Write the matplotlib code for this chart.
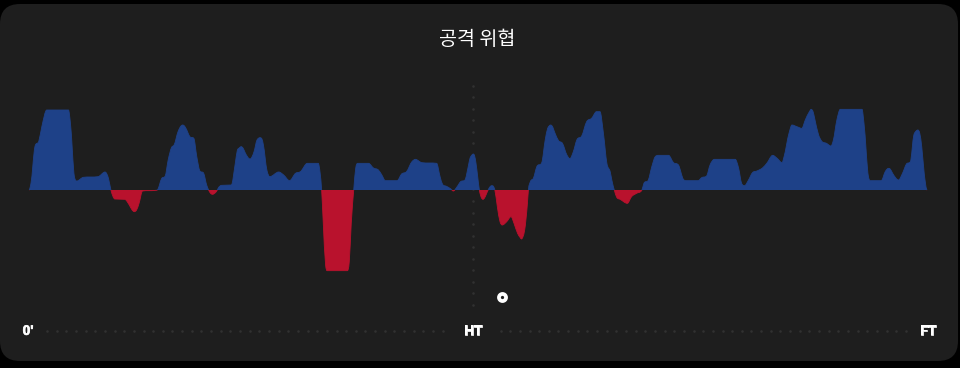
import numpy as np
import matplotlib
matplotlib.use("Agg")
import matplotlib.pyplot as plt
import matplotlib.patheffects as pe
from matplotlib.patches import FancyBboxPatch, PathPatch, Rectangle
from matplotlib.path import Path
from matplotlib.transforms import Affine2D

plt.rcParams['font.family'] = ['Noto Sans CJK KR', 'DejaVu Sans']

TITLE = "공격 위협"
PERIOD_LABELS = ["0'", "HT", "FT"]
goal_minutes = [47.9]

minutes = [0,.2,.6,1,1.3,1.8,4,4.2,4.6,4.85,5.5,7,7.7,8.05,8.3,8.7,9.7,10.16,10.45,10.67,10.9,11.15,11.5,12.8,13,13.45,13.8,14.1,14.45,14.7,15.1,15.4,15.57,15.75,15.9,16.3,16.7,17,17.3,17.7,18,18.2,18.4,18.6,18.8,19,19.2,19.5,20.5,20.9,21.1,21.3,21.5,21.7,21.9,22.4,22.8,23.1,23.2,23.4,23.6,23.75,24.1,24.4,25.3,25.8,26.4,27,27.5,28.2,29.3,29.5,29.65,29.8,30.05,30.2,32.25,32.45,32.65,32.9,33.1,33.3,34.4,34.9,35.4,35.75,36.1,37.3,37.75,38.25,38.8,39.15,39.8,41.3,41.65,41.9,42.3,42.7,43,43.33,43.73,44.17,44.5,44.68,44.85,45.02,45.15,45.29,45.46,45.63,45.85,46,46.15,46.3,46.55,46.75,46.9,47.05,47.2,47.45,47.72,47.95,48.4,48.84,49.14,49.5,49.75,49.9,50.05,50.22,50.5,50.6,50.8,51.1,51.45,51.95,52.3,52.55,52.7,52.85,53,53.3,53.65,54.05,54.5,54.8,55.15,55.5,56,56.5,57,57.5,57.85,58.2,58.55,58.9,59.05,59.3,59.55,59.9,60.62,61.05,61.55,62.1,62.3,62.75,63.1,63.45,63.8,64.8,65.3,65.8,66.3,66.55,67.8,68.15,68.65,69,69.45,71.55,71.9,72.2,72.5,72.9,73.3,73.75,74.35,74.75,75.35,75.8,76.3,76.5,77,77.3,77.8,78.3,78.65,79.05,79.25,79.45,79.6,80,80.3,80.8,81.25,81.5,81.85,82.2,84.4,84.6,85.05,85.2,86.35,86.75,86.95,87.1,87.25,87.5,88.1,88.5,88.9,89.3,89.65,89.85,90.05,90.25,90.45,90.7,90.95,91]
threat = [0,20,130,147,190,240,240,200,40,27,38,40,54,35,0,-27,-28,-45,-60,-65,-60,-40,-3,-1,0,35,42,90,128,135,175,192,195,192,185,160,155,100,58,50,15,0,-10,-13,-10,-4,7,14,15,80,118,126,130,125,112,93,115,150,154,157,153,135,60,40,54,45,28,50,55,80,80,50,0,-90,-225,-242,-242,-215,-100,0,65,80,80,66,60,45,28,28,48,55,85,92,82,80,40,17,11,4,-3,8,25,30,70,95,104,108,102,80,40,0,-24,-28,-24,-15,2,11,13,11,0,-50,-95,-105,-95,-80,-100,-130,-142,-147,-140,-120,-40,0,25,35,70,82,150,185,192,195,192,170,148,140,105,94,115,150,162,205,215,235,235,170,80,53,30,0,-22,-28,-40,-20,-10,0,20,30,70,100,104,104,82,75,32,28,28,37,42,75,92,92,65,20,13,30,52,57,67,80,104,95,82,100,170,195,190,185,210,234,242,234,215,165,147,140,132,150,210,242,242,200,40,28,28,55,63,65,63,50,30,50,78,85,165,176,180,170,130,50,2,0]

BLUE = "#1e4188"
RED = "#b9122d"
CARD = "#1e1e1e"
DOT = "#313131"
W, H = 960, 368


def monotone_path(xs, ys):
    xs, ys = np.asarray(xs, float), np.asarray(ys, float)
    h = np.diff(xs)
    s = np.diff(ys) / h
    t = np.zeros_like(xs)
    for i in range(1, len(xs) - 1):
        if s[i - 1] * s[i] > 0:
            p = (s[i - 1] * h[i] + s[i] * h[i - 1]) / (h[i - 1] + h[i])
            t[i] = np.sign(s[i]) * min(3 * abs(s[i - 1]), 3 * abs(s[i]), abs(p))
    verts = [(xs[0], ys[0])]
    codes = [Path.MOVETO]
    for i in range(len(h)):
        d = h[i] / 3
        verts += [(xs[i] + d, ys[i] + d * t[i]), (xs[i + 1] - d, ys[i + 1] - d * t[i + 1]), (xs[i + 1], ys[i + 1])]
        codes += [Path.CURVE4] * 3
    closed = Path(verts + [(xs[0], ys[0])], codes + [Path.CLOSEPOLY])
    return closed, Path(verts, codes)


fig = plt.figure(figsize=(W / 100, H / 100), dpi=100, facecolor="black")
ax = fig.add_axes([0, 0, 1, 1])
ax.axis("off")

PX_PER_MIN = 9.87
X0, BASE, PX_PER_UNIT = 29.0, 190.0, 1 / 3
ax.set_xlim(-X0 / PX_PER_MIN, (W - X0) / PX_PER_MIN)
ax.set_ylim(-(H - BASE) / PX_PER_UNIT, BASE / PX_PER_UNIT)

px = Affine2D().scale(1, -1).translate(0, H)

ax.add_patch(FancyBboxPatch((20, 24), 918, 317, boxstyle="round,pad=20,rounding_size=20",
                            transform=px, facecolor=CARD, edgecolor="none", zorder=0, clip_on=False))

# dotted guides
vy = np.arange(85.5, 307, 11.55)
ax.scatter(np.full_like(vy, 473.0), vy, s=3.5, c=DOT, linewidths=0, transform=px, zorder=1)
hx = 47 + 9.65 * np.arange(0, 90)
hx = hx[(hx < 450) | (hx > 498)]
ax.scatter(hx, np.full_like(hx, 330.5), s=3.5, c=DOT, linewidths=0, transform=px, zorder=1)

# area: the fill has no edge, and the open curve is stroked so the baseline gets no line
closed, curve = monotone_path(minutes, threat)
ymin, ymax = ax.get_ylim()
xmin, xmax = ax.get_xlim()
for color, y0, hgt in ((BLUE, 0, ymax), (RED, ymin, -ymin)):
    fill = PathPatch(closed, facecolor=color, edgecolor="none", zorder=2)
    edge = PathPatch(curve, fill=False, edgecolor=color, linewidth=0.6, zorder=2)
    for patch in (fill, edge):
        ax.add_patch(patch)
        patch.set_clip_path(Rectangle((xmin, y0), xmax - xmin, hgt, transform=ax.transData))

# goal marker
ax.scatter(goal_minutes, [-321] * len(goal_minutes), s=26, facecolor=CARD, edgecolor="white",
           linewidths=2.7, zorder=4)

ax.text(477.5, 39.5, TITLE, transform=px, color="white", fontsize=14.1, ha="center", va="center")
for label, x in zip(PERIOD_LABELS, (28, 473, 928)):
    ax.text(x, 334.8, label, transform=px, color="white", fontsize=9.8, fontweight="bold",
            ha="center", va="baseline", family=["Liberation Sans", "DejaVu Sans"], zorder=5,
            path_effects=[pe.withStroke(linewidth=0.5, foreground="white")])

fig.savefig("out.png", dpi=100, facecolor="black")
